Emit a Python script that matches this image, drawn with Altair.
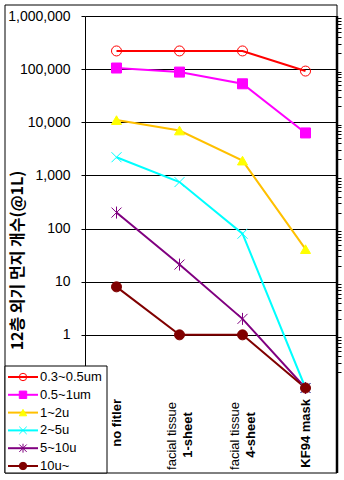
import altair as alt
import pandas as pd

# ---------------- data ----------------
categories = ["no fitler", "facial tissue 1-sheet", "facial tissue 4-sheet", "KF94 mask"]
single_labels = ["no fitler", "KF94 mask"]
two_line_cats = ["facial tissue 1-sheet", "facial tissue 4-sheet"]
two_line_first = ["facial tissue", "facial tissue"]
two_line_second = ["1-sheet", "4-sheet"]
series = ["0.3~0.5um", "0.5~1um", "1~2u", "2~5u", "5~10u", "10u~"]

v_03_05 = [220000, 220000, 220000, 92000]
v_05_1 = [105000, 88000, 53000, 6300]
v_1_2 = [11000, 7000, 1900, 41]
v_2_5 = [2200, 750, 80, 0.1]
v_5_10 = [200, 21, 2, 0.1]
v_10 = [8, 1, 1, 0.1]
all_values = [v_03_05, v_05_1, v_1_2, v_2_5, v_5_10, v_10]

y_major = [1, 10, 100, 1000, 10000, 100000, 1000000]
y_minor = [m * 10 ** e for e in range(-1, 6) for m in range(2, 10)]

line_colors = ["#FF0000", "#FF00FF", "#FFC000", "#00FFFF", "#800080", "#800000"]
marker_fill = ["transparent", "#FF00FF", "#FFFF00", "#00FFFF", "#800080", "#800000"]
marker_stroke = ["#FF0000", "#FF00FF", "#FFFF00", "#00FFFF", "#800080", "#800000"]
marker_shapes = ["circle", "square", "triangle-up",
                 "M-1,-1L1,1M-1,1L1,-1",
                 "M-1,-1L1,1M-1,1L1,-1M0,-1.2L0,1.2",
                 "circle"]

rows = []
for s, vals in zip(series, all_values):
    for i, (c, v) in enumerate(zip(categories, vals)):
        rows.append({"series": s, "category": c, "idx": i, "value": v})
df = pd.DataFrame(rows)
legend_df = pd.DataFrame({"series": series})
single_df = pd.DataFrame({"category": single_labels})
two_df = pd.DataFrame({"category": two_line_cats, "first": two_line_first, "second": two_line_second})

# ---------------- scales ----------------
x_scale = alt.Scale(type="band", domain=categories, paddingInner=0, paddingOuter=0)
y_scale = alt.Scale(type="log", domain=[0.1, 1000000], nice=False)
color_scale = alt.Scale(domain=series, range=line_colors)
fill_scale = alt.Scale(domain=series, range=marker_fill)
stroke_scale = alt.Scale(domain=series, range=marker_stroke)
shape_scale = alt.Scale(domain=series, range=marker_shapes)

x_axis = alt.Axis(
    title=None, tickBand="extent", labels=False,
    tickSize=4, tickColor="black", domainColor="black", grid=False,
)
y_axis_major = alt.Axis(
    values=y_major, format=",", grid=True, gridColor="black", gridOpacity=1,
    gridWidth=1, tickSize=4, tickColor="black", domainColor="black",
    labelFont="Liberation Sans", labelFontSize=14, labelColor="black",
    labelPadding=11,
    title="12층 외기 먼지 개수(@1L)", titleX=-68, titleY=244, titleAngle=270,
    titleFont="Noto Sans CJK KR", titleFontSize=16, titleFontWeight="bold",
    titleColor="black", titleAlign="center", titleBaseline="middle",
)
y_axis_minor = alt.Axis(values=y_minor, labels=False, grid=False, domain=False,
                        tickSize=4, tickColor="black", title=None)

base = alt.Chart(df)
x_enc = alt.X("category:N", sort=categories, scale=x_scale, axis=x_axis, bandPosition=0.5)
x_plain = alt.X("category:N", sort=categories, scale=x_scale, axis=None, bandPosition=0.5)

lines = base.mark_line(strokeWidth=2).encode(
    x=x_enc,
    y=alt.Y("value:Q", scale=y_scale, axis=y_axis_major),
    color=alt.Color("series:N", scale=color_scale, legend=None),
    order=alt.Order("idx:Q"),
)
points = base.mark_point(filled=True, size=100, strokeWidth=1, opacity=1).encode(
    x=x_plain,
    y=alt.Y("value:Q", scale=y_scale, axis=y_axis_minor),
    fill=alt.Fill("series:N", scale=fill_scale, legend=None),
    stroke=alt.Stroke("series:N", scale=stroke_scale, legend=None),
    shape=alt.Shape("series:N", scale=shape_scale, legend=None),
)

# category labels (rotated)
lab_single = alt.Chart(single_df).mark_text(
    angle=270, align="right", baseline="middle", font="Liberation Sans",
    fontSize=13, fontWeight="bold", color="black").encode(
    x=x_plain, y=alt.value(383), text="category:N")
lab_first = alt.Chart(two_df).mark_text(
    angle=270, align="center", baseline="middle", font="Liberation Sans",
    fontSize=13, fontWeight="normal", color="black", dy=-8).encode(
    x=x_plain, y=alt.value(420), text="first:N")
lab_second = alt.Chart(two_df).mark_text(
    angle=270, align="center", baseline="middle", font="Liberation Sans",
    fontSize=13, fontWeight="bold", color="black", dy=8).encode(
    x=x_plain, y=alt.value(419), text="second:N")

main = alt.layer(lines, points, lab_single, lab_first, lab_second).resolve_axis(y="independent")

# ---------------- frame & legend ----------------
one = pd.DataFrame({"a": [0]})
border = alt.Chart(one).mark_rect(fill="transparent", stroke="black", strokeWidth=1).encode(
    x=alt.value(-80), x2=alt.value(252), y=alt.value(-11), y2=alt.value(457))
right_edge = alt.Chart(one).mark_rule(stroke="black", strokeWidth=2.5).encode(
    x=alt.value(252), y=alt.value(0), y2=alt.value(457))
legend_box = alt.Chart(one).mark_rect(fill="white", stroke="black", strokeWidth=1).encode(
    x=alt.value(-80), x2=alt.value(22), y=alt.value(350), y2=alt.value(457))

leg_y = alt.Y("series:N", scale=alt.Scale(type="point", domain=series, range=[361, 450], padding=0), axis=None)
leg_base = alt.Chart(legend_df)
leg_rules = leg_base.mark_rule(strokeWidth=2).encode(
    x=alt.value(-77), x2=alt.value(-47), y=leg_y,
    color=alt.Color("series:N", scale=color_scale, legend=None))
leg_points = leg_base.mark_point(filled=True, size=55, strokeWidth=1, opacity=1).encode(
    x=alt.value(-62), y=leg_y,
    fill=alt.Fill("series:N", scale=fill_scale, legend=None),
    stroke=alt.Stroke("series:N", scale=stroke_scale, legend=None),
    shape=alt.Shape("series:N", scale=shape_scale, legend=None))
leg_text = leg_base.mark_text(align="left", baseline="middle", font="Liberation Sans",
                              fontSize=13, color="black").encode(
    x=alt.value(-45), y=leg_y, text="series:N")

chart = alt.layer(border, main, right_edge, legend_box, leg_rules, leg_points, leg_text).resolve_scale(
    y="independent"
).properties(
    width=252, height=372,
    padding={"left": 85, "top": 16, "right": 7, "bottom": 92},
    autosize=alt.AutoSizeParams(type="none"),
    background="white",
).configure_view(stroke=None)

chart.save("out.html", embed_options={"renderer": "svg", "actions": False})
